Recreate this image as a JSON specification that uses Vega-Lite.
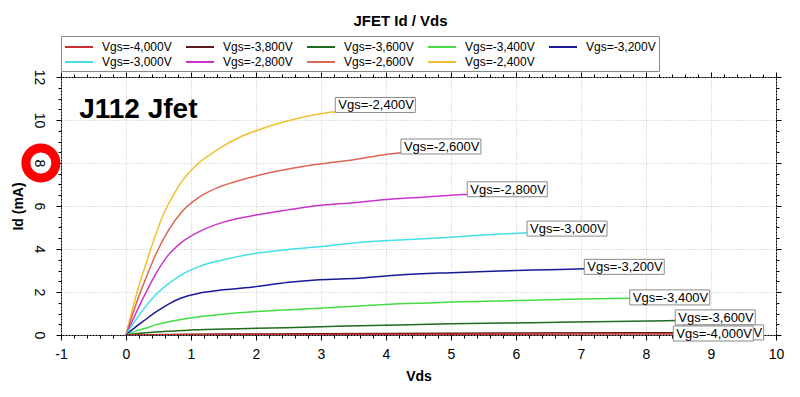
{
  "$schema": "https://vega.github.io/schema/vega-lite/v6.json",
  "autosize": {"type": "none"},
  "width": 715,
  "height": 258,
  "padding": {"left": 61, "top": 77, "right": 24, "bottom": 62},
  "background": "#ffffff",
  "title": {"text": "JFET Id / Vds", "fontSize": 15, "fontWeight": "bold", "font": "Liberation Sans", "color": "#000", "anchor": "middle", "dx": -18, "offset": 7},
  "config": {
    "view": {"stroke": "#000", "strokeWidth": 1},
    "axis": {"domain": false, "tickColor": "#000", "labelFont": "Liberation Sans", "labelFontSize": 14, "labelColor": "#000", "titleFont": "Liberation Sans", "titleFontSize": 14, "titleFontWeight": "bold", "titleColor": "#000", "grid": false}
  },
  "datasets": {
    "curves": [
      {"vgs": "Vgs=-2,400V", "vds": 0, "id": 0},
      {"vgs": "Vgs=-2,400V", "vds": 0.1, "id": 1.2},
      {"vgs": "Vgs=-2,400V", "vds": 0.2, "id": 2.3},
      {"vgs": "Vgs=-2,400V", "vds": 0.3, "id": 3.25},
      {"vgs": "Vgs=-2,400V", "vds": 0.45, "id": 4.6},
      {"vgs": "Vgs=-2,400V", "vds": 0.56, "id": 5.5},
      {"vgs": "Vgs=-2,400V", "vds": 0.7, "id": 6.35},
      {"vgs": "Vgs=-2,400V", "vds": 0.85, "id": 7.1},
      {"vgs": "Vgs=-2,400V", "vds": 1.0, "id": 7.65},
      {"vgs": "Vgs=-2,400V", "vds": 1.12, "id": 8.0},
      {"vgs": "Vgs=-2,400V", "vds": 1.3, "id": 8.4},
      {"vgs": "Vgs=-2,400V", "vds": 1.5, "id": 8.8},
      {"vgs": "Vgs=-2,400V", "vds": 1.75, "id": 9.2},
      {"vgs": "Vgs=-2,400V", "vds": 2.0, "id": 9.5},
      {"vgs": "Vgs=-2,400V", "vds": 2.3, "id": 9.8},
      {"vgs": "Vgs=-2,400V", "vds": 2.6, "id": 10.05},
      {"vgs": "Vgs=-2,400V", "vds": 2.97, "id": 10.28},
      {"vgs": "Vgs=-2,400V", "vds": 3.22, "id": 10.38},
      {"vgs": "Vgs=-2,600V", "vds": 0, "id": 0},
      {"vgs": "Vgs=-2,600V", "vds": 0.15, "id": 1.4},
      {"vgs": "Vgs=-2,600V", "vds": 0.3, "id": 2.6},
      {"vgs": "Vgs=-2,600V", "vds": 0.45, "id": 3.7},
      {"vgs": "Vgs=-2,600V", "vds": 0.66, "id": 4.9},
      {"vgs": "Vgs=-2,600V", "vds": 0.85, "id": 5.7},
      {"vgs": "Vgs=-2,600V", "vds": 1.12, "id": 6.4},
      {"vgs": "Vgs=-2,600V", "vds": 1.43, "id": 6.88},
      {"vgs": "Vgs=-2,600V", "vds": 1.7, "id": 7.15},
      {"vgs": "Vgs=-2,600V", "vds": 2.0, "id": 7.4},
      {"vgs": "Vgs=-2,600V", "vds": 2.5, "id": 7.72},
      {"vgs": "Vgs=-2,600V", "vds": 2.97, "id": 7.95},
      {"vgs": "Vgs=-2,600V", "vds": 3.5, "id": 8.15},
      {"vgs": "Vgs=-2,600V", "vds": 4.0, "id": 8.4},
      {"vgs": "Vgs=-2,600V", "vds": 4.23, "id": 8.48},
      {"vgs": "Vgs=-2,800V", "vds": 0, "id": 0},
      {"vgs": "Vgs=-2,800V", "vds": 0.15, "id": 1.0},
      {"vgs": "Vgs=-2,800V", "vds": 0.3, "id": 1.94},
      {"vgs": "Vgs=-2,800V", "vds": 0.45, "id": 2.8},
      {"vgs": "Vgs=-2,800V", "vds": 0.66, "id": 3.75},
      {"vgs": "Vgs=-2,800V", "vds": 0.85, "id": 4.3},
      {"vgs": "Vgs=-2,800V", "vds": 1.12, "id": 4.8},
      {"vgs": "Vgs=-2,800V", "vds": 1.5, "id": 5.25},
      {"vgs": "Vgs=-2,800V", "vds": 2.0, "id": 5.58},
      {"vgs": "Vgs=-2,800V", "vds": 2.5, "id": 5.82},
      {"vgs": "Vgs=-2,800V", "vds": 2.97, "id": 6.02},
      {"vgs": "Vgs=-2,800V", "vds": 3.5, "id": 6.15},
      {"vgs": "Vgs=-2,800V", "vds": 4.0, "id": 6.3},
      {"vgs": "Vgs=-2,800V", "vds": 4.5, "id": 6.4},
      {"vgs": "Vgs=-2,800V", "vds": 5.0, "id": 6.5},
      {"vgs": "Vgs=-2,800V", "vds": 5.25, "id": 6.54},
      {"vgs": "Vgs=-3,000V", "vds": 0, "id": 0},
      {"vgs": "Vgs=-3,000V", "vds": 0.15, "id": 0.7},
      {"vgs": "Vgs=-3,000V", "vds": 0.3, "id": 1.32},
      {"vgs": "Vgs=-3,000V", "vds": 0.45, "id": 1.85},
      {"vgs": "Vgs=-3,000V", "vds": 0.66, "id": 2.4},
      {"vgs": "Vgs=-3,000V", "vds": 0.85, "id": 2.8},
      {"vgs": "Vgs=-3,000V", "vds": 1.12, "id": 3.18},
      {"vgs": "Vgs=-3,000V", "vds": 1.5, "id": 3.5},
      {"vgs": "Vgs=-3,000V", "vds": 2.0, "id": 3.8},
      {"vgs": "Vgs=-3,000V", "vds": 2.5, "id": 3.98},
      {"vgs": "Vgs=-3,000V", "vds": 2.97, "id": 4.1},
      {"vgs": "Vgs=-3,000V", "vds": 3.58, "id": 4.3},
      {"vgs": "Vgs=-3,000V", "vds": 4.2, "id": 4.42},
      {"vgs": "Vgs=-3,000V", "vds": 5.0, "id": 4.55},
      {"vgs": "Vgs=-3,000V", "vds": 5.5, "id": 4.65},
      {"vgs": "Vgs=-3,000V", "vds": 6.17, "id": 4.76},
      {"vgs": "Vgs=-3,200V", "vds": 0, "id": 0},
      {"vgs": "Vgs=-3,200V", "vds": 0.15, "id": 0.38},
      {"vgs": "Vgs=-3,200V", "vds": 0.3, "id": 0.72},
      {"vgs": "Vgs=-3,200V", "vds": 0.45, "id": 1.05},
      {"vgs": "Vgs=-3,200V", "vds": 0.66, "id": 1.45},
      {"vgs": "Vgs=-3,200V", "vds": 0.85, "id": 1.72},
      {"vgs": "Vgs=-3,200V", "vds": 1.12, "id": 1.94},
      {"vgs": "Vgs=-3,200V", "vds": 1.5, "id": 2.1},
      {"vgs": "Vgs=-3,200V", "vds": 2.0, "id": 2.25},
      {"vgs": "Vgs=-3,200V", "vds": 2.5, "id": 2.45},
      {"vgs": "Vgs=-3,200V", "vds": 2.97, "id": 2.57},
      {"vgs": "Vgs=-3,200V", "vds": 3.58, "id": 2.64},
      {"vgs": "Vgs=-3,200V", "vds": 4.2, "id": 2.79},
      {"vgs": "Vgs=-3,200V", "vds": 5.0, "id": 2.9},
      {"vgs": "Vgs=-3,200V", "vds": 5.74, "id": 2.98},
      {"vgs": "Vgs=-3,200V", "vds": 6.5, "id": 3.04},
      {"vgs": "Vgs=-3,200V", "vds": 7.05, "id": 3.08},
      {"vgs": "Vgs=-3,400V", "vds": 0, "id": 0},
      {"vgs": "Vgs=-3,400V", "vds": 0.15, "id": 0.18},
      {"vgs": "Vgs=-3,400V", "vds": 0.3, "id": 0.31},
      {"vgs": "Vgs=-3,400V", "vds": 0.45, "id": 0.47},
      {"vgs": "Vgs=-3,400V", "vds": 0.66, "id": 0.62},
      {"vgs": "Vgs=-3,400V", "vds": 1.12, "id": 0.85},
      {"vgs": "Vgs=-3,400V", "vds": 1.5, "id": 0.97},
      {"vgs": "Vgs=-3,400V", "vds": 2.0, "id": 1.09},
      {"vgs": "Vgs=-3,400V", "vds": 2.8, "id": 1.22},
      {"vgs": "Vgs=-3,400V", "vds": 3.58, "id": 1.35},
      {"vgs": "Vgs=-3,400V", "vds": 4.2, "id": 1.45},
      {"vgs": "Vgs=-3,400V", "vds": 5.0, "id": 1.53},
      {"vgs": "Vgs=-3,400V", "vds": 6.25, "id": 1.62},
      {"vgs": "Vgs=-3,400V", "vds": 7.0, "id": 1.67},
      {"vgs": "Vgs=-3,400V", "vds": 7.75, "id": 1.71},
      {"vgs": "Vgs=-3,600V", "vds": 0, "id": 0},
      {"vgs": "Vgs=-3,600V", "vds": 0.3, "id": 0.1},
      {"vgs": "Vgs=-3,600V", "vds": 0.7, "id": 0.18},
      {"vgs": "Vgs=-3,600V", "vds": 1.12, "id": 0.24},
      {"vgs": "Vgs=-3,600V", "vds": 2.0, "id": 0.31},
      {"vgs": "Vgs=-3,600V", "vds": 3.0, "id": 0.38},
      {"vgs": "Vgs=-3,600V", "vds": 3.58, "id": 0.43},
      {"vgs": "Vgs=-3,600V", "vds": 4.2, "id": 0.47},
      {"vgs": "Vgs=-3,600V", "vds": 5.0, "id": 0.52},
      {"vgs": "Vgs=-3,600V", "vds": 6.25, "id": 0.57},
      {"vgs": "Vgs=-3,600V", "vds": 7.5, "id": 0.63},
      {"vgs": "Vgs=-3,600V", "vds": 8.46, "id": 0.67},
      {"vgs": "Vgs=-3,800V", "vds": 0, "id": 0},
      {"vgs": "Vgs=-3,800V", "vds": 1.0, "id": 0.03},
      {"vgs": "Vgs=-3,800V", "vds": 2.0, "id": 0.05},
      {"vgs": "Vgs=-3,800V", "vds": 4.0, "id": 0.07},
      {"vgs": "Vgs=-3,800V", "vds": 6.0, "id": 0.09},
      {"vgs": "Vgs=-3,800V", "vds": 8.58, "id": 0.11},
      {"vgs": "Vgs=-4,000V", "vds": 0, "id": 0},
      {"vgs": "Vgs=-4,000V", "vds": 2.0, "id": 0.02},
      {"vgs": "Vgs=-4,000V", "vds": 4.0, "id": 0.03},
      {"vgs": "Vgs=-4,000V", "vds": 6.0, "id": 0.04},
      {"vgs": "Vgs=-4,000V", "vds": 8.42, "id": 0.05}
    ],
    "labels": [
      {"vgs": "Vgs=-2,400V", "lx": 3.22, "ly": 10.35},
      {"vgs": "Vgs=-2,600V", "lx": 4.23, "ly": 8.42},
      {"vgs": "Vgs=-2,800V", "lx": 5.25, "ly": 6.43},
      {"vgs": "Vgs=-3,000V", "lx": 6.17, "ly": 4.6},
      {"vgs": "Vgs=-3,200V", "lx": 7.05, "ly": 2.82},
      {"vgs": "Vgs=-3,400V", "lx": 7.75, "ly": 1.4},
      {"vgs": "Vgs=-3,600V", "lx": 8.45, "ly": 0.47},
      {"vgs": "Vgs=-3,800V", "lx": 8.58, "ly": -0.23},
      {"vgs": "Vgs=-4,000V", "lx": 8.42, "ly": -0.28}
    ],
    "notes": [{"t": "J112 Jfet", "x": -0.72, "y": 10.1}],
    "mark8": [{"x": -1.31, "y": 8}]
  },
  "layer": [
    {
      "data": {"name": "curves"},
      "mark": {"type": "line", "strokeWidth": 1.5, "clip": true, "interpolate": "monotone"},
      "encoding": {
        "x": {"field": "vds", "type": "quantitative", "scale": {"domain": [-1, 10], "nice": false, "zero": false},
              "axis": {"orient": "bottom", "title": "Vds", "values": [-1,0,1,2,3,4,5,6,7,8,9,10], "grid": true, "gridColor": "#c4c4c4", "gridDash": [1, 2], "tickSize": 5, "labelPadding": 7, "titlePadding": 8, "labelExpr": "datum.value + ''", "labelFlush": false}},
        "y": {"field": "id", "type": "quantitative", "scale": {"domain": [0, 12], "nice": false, "zero": false},
              "axis": {"orient": "left", "title": "Id (mA)", "values": [0,2,4,6,8,10,12], "grid": true, "gridColor": "#c4c4c4", "gridDash": [1, 2], "tickSize": 5, "labelAngle": 90, "labelAlign": "center", "labelBaseline": "top", "labelPadding": 11, "titlePadding": 6, "labelExpr": "datum.value + ''", "labelFlush": false}},
        "color": {"field": "vgs", "type": "nominal",
          "scale": {"domain": ["Vgs=-4,000V", "Vgs=-3,800V", "Vgs=-3,600V", "Vgs=-3,400V", "Vgs=-3,200V", "Vgs=-3,000V", "Vgs=-2,800V", "Vgs=-2,600V", "Vgs=-2,400V"],
                    "range": ["#c83030", "#5c1a1a", "#1f6b1f", "#44dd44", "#1a1a99", "#44e0e8", "#cc33cc", "#dd6655", "#f0c030"]},
          "legend": {"orient": "top", "columns": 5, "title": null, "symbolType": "M-1,0H3", "symbolSize": 196, "symbolStrokeWidth": 2, "labelFontSize": 12, "labelFont": "Liberation Sans", "labelColor": "#000", "labelOffset": 22, "strokeColor": "#8a8a8a", "padding": 3, "rowPadding": 1, "columnPadding": 10, "offset": 0}}
      }
    },
    {
      "data": {"name": "labels"},
      "transform": [{"filter": "datum.vgs != 'Vgs=-4,000V'"}],
      "mark": {"type": "point", "shape": "M0,-0.1875H1V0H0Z", "size": 25600, "filled": true, "fill": "#ffffff", "stroke": "#8a8a8a", "strokeWidth": 1, "opacity": 1},
      "encoding": {
        "x": {"field": "lx", "type": "quantitative", "axis": {"orient": "bottom", "title": null, "labels": false, "values": [-1,-0.8,-0.6,-0.4,-0.2,0,0.2,0.4,0.6,0.8,1,1.2,1.4,1.6,1.8,2,2.2,2.4,2.6,2.8,3,3.2,3.4,3.6,3.8,4,4.2,4.4,4.6,4.8,5,5.2,5.4,5.6,5.8,6,6.2,6.4,6.6,6.8,7,7.2,7.4,7.6,7.8,8,8.2,8.4,8.6,8.8,9,9.2,9.4,9.6,9.8,10], "tickSize": 3}},
        "y": {"field": "ly", "type": "quantitative", "axis": {"orient": "left", "title": null, "labels": false, "values": [0,0.5,1,1.5,2,2.5,3,3.5,4,4.5,5,5.5,6,6.5,7,7.5,8,8.5,9,9.5,10,10.5,11,11.5,12], "tickSize": 3}}
      }
    },
    {
      "data": {"name": "labels"},
      "transform": [{"filter": "datum.vgs != 'Vgs=-4,000V'"}],
      "mark": {"type": "text", "align": "left", "baseline": "alphabetic", "dx": 3, "dy": -3, "font": "Liberation Sans", "fontSize": 13, "color": "#000"},
      "encoding": {
        "x": {"field": "lx", "type": "quantitative", "axis": {"orient": "top", "title": null, "labels": false, "values": [-1,-0.8,-0.6,-0.4,-0.2,0,0.2,0.4,0.6,0.8,1,1.2,1.4,1.6,1.8,2,2.2,2.4,2.6,2.8,3,3.2,3.4,3.6,3.8,4,4.2,4.4,4.6,4.8,5,5.2,5.4,5.6,5.8,6,6.2,6.4,6.6,6.8,7,7.2,7.4,7.6,7.8,8,8.2,8.4,8.6,8.8,9,9.2,9.4,9.6,9.8,10], "tickSize": 3}},
        "y": {"field": "ly", "type": "quantitative", "axis": {"orient": "right", "title": null, "labels": false, "values": [0,0.5,1,1.5,2,2.5,3,3.5,4,4.5,5,5.5,6,6.5,7,7.5,8,8.5,9,9.5,10,10.5,11,11.5,12], "tickSize": 3}},
        "text": {"field": "vgs"}
      }
    },
    {
      "data": {"name": "labels"},
      "transform": [{"filter": "datum.vgs == 'Vgs=-4,000V'"}],
      "mark": {"type": "point", "shape": "M0,-0.1875H1V0H0Z", "size": 25600, "filled": true, "fill": "#ffffff", "stroke": "#8a8a8a", "strokeWidth": 1, "opacity": 1},
      "encoding": {
        "x": {"field": "lx", "type": "quantitative", "axis": {"orient": "top", "title": null, "labels": false, "values": [-1,0,1,2,3,4,5,6,7,8,9,10], "tickSize": 5}},
        "y": {"field": "ly", "type": "quantitative", "axis": {"orient": "right", "title": null, "labels": false, "values": [0,2,4,6,8,10,12], "tickSize": 5}}
      }
    },
    {
      "data": {"name": "labels"},
      "transform": [{"filter": "datum.vgs == 'Vgs=-4,000V'"}],
      "mark": {"type": "text", "align": "left", "baseline": "alphabetic", "dx": 3, "dy": -3, "font": "Liberation Sans", "fontSize": 13, "color": "#000"},
      "encoding": {
        "x": {"field": "lx", "type": "quantitative", "axis": null},
        "y": {"field": "ly", "type": "quantitative", "axis": null},
        "text": {"field": "vgs"}
      }
    },
    {
      "data": {"name": "notes"},
      "mark": {"type": "text", "align": "left", "baseline": "alphabetic", "font": "Liberation Sans", "fontSize": 28, "fontWeight": "bold", "color": "#000"},
      "encoding": {
        "x": {"field": "x", "type": "quantitative", "axis": null},
        "y": {"field": "y", "type": "quantitative", "axis": null},
        "text": {"field": "t"}
      }
    },
    {
      "data": {"name": "mark8"},
      "mark": {"type": "point", "shape": "circle", "size": 900, "filled": false, "stroke": "#ff0000", "strokeWidth": 9, "opacity": 1},
      "encoding": {
        "x": {"field": "x", "type": "quantitative", "axis": null},
        "y": {"field": "y", "type": "quantitative", "axis": null}
      }
    }
  ],
  "resolve": {"axis": {"x": "independent", "y": "independent"}}
}
